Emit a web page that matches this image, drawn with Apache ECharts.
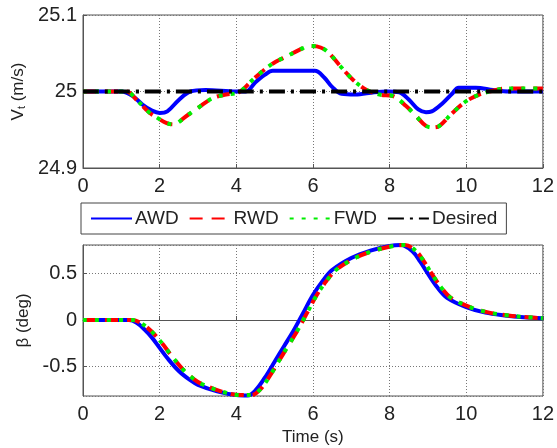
<!DOCTYPE html>
<html>
<head>
<meta charset="utf-8">
<script src="https://cdn.jsdelivr.net/npm/echarts@6/dist/echarts.min.js"></script>
<style>html,body{margin:0;padding:0;background:#fff}#c{width:557px;height:448px}</style>
</head>
<body>
<div id="c"></div>
<script>
// ---- Data ----
const xTicks = [0, 2, 4, 6, 8, 10, 12];
const vtTicks = [24.9, 25, 25.1];
const betaTicks = [-0.5, 0, 0.5];
const seriesNames = ['AWD', 'RWD', 'FWD', 'Desired'];

// Vt (m/s) – time / value pairs
const vtAwdT = [0, 1.0, 1.3, 1.55, 1.8, 2.0, 2.2, 2.5, 2.8, 3.2, 4.0, 4.25, 4.5, 4.75, 4.95, 6.05, 6.3, 6.5, 6.75, 7.1, 7.6, 7.95, 8.25, 8.5, 8.75, 8.95, 9.1, 9.37, 9.63, 9.8, 10.25, 10.7, 11.1, 12];
const vtAwdV = [25, 25, 24.994, 24.983, 24.975, 24.972, 24.974, 24.989, 25.0, 25.002, 25.0, 25.0, 25.012, 25.022, 25.027, 25.027, 25.018, 25.006, 24.997, 24.996, 24.999, 25.0, 24.999, 24.9895, 24.9765, 24.973, 24.974, 24.984, 24.997, 25.005, 25.005, 25.002, 25.0, 25.0];

const vtRwdT = [0, 1.13, 1.4, 1.73, 1.99, 2.17, 2.35, 2.7, 3.04, 3.39, 3.73, 4.07, 4.42, 4.77, 5.03, 5.32, 5.67, 5.93, 6.1, 6.36, 6.7, 7.05, 7.4, 7.74, 8.09, 8.43, 8.69, 8.95, 9.15, 9.3, 9.64, 9.99, 10.34, 10.69, 11.04, 12];
const vtRwdV = [25, 25, 24.989, 24.9725, 24.964, 24.959, 24.957, 24.968, 24.98, 24.9915, 24.996, 24.999, 25.015, 25.03, 25.039, 25.046, 25.055, 25.0595, 25.059, 25.053, 25.034, 25.015, 25.002, 24.996, 24.994, 24.981, 24.968, 24.955, 24.953, 24.955, 24.972, 24.987, 24.996, 25.001, 25.004, 25.004];
const vtFwdT = [0, 1.13, 1.4, 1.73, 1.99, 2.17, 2.35, 2.7, 3.04, 3.39, 3.73, 4.07, 4.42, 4.77, 5.03, 5.32, 5.67, 5.93, 6.1, 6.36, 6.7, 7.05, 7.4, 7.74, 8.09, 8.43, 8.69, 8.95, 9.15, 9.3, 9.64, 9.99, 10.34, 10.69, 11.04, 12];
const vtFwdV = [25, 25, 24.989, 24.9725, 24.964, 24.959, 24.957, 24.968, 24.98, 24.9915, 24.996, 24.999, 25.015, 25.03, 25.039, 25.046, 25.055, 25.0595, 25.059, 25.053, 25.034, 25.015, 25.002, 24.996, 24.994, 24.981, 24.968, 24.955, 24.953, 24.955, 24.972, 24.987, 24.996, 25.001, 25.004, 25.004];
const vtDesT = [0, 12];
const vtDesV = [25, 25];

// beta (deg)
const bAwdT = [0, 1.2, 1.4, 1.6, 1.8, 2.0, 2.2, 2.5, 2.8, 3.0, 3.5, 4.0, 4.3, 4.5, 4.75, 5.0, 5.25, 5.5, 5.75, 6.0, 6.25, 6.5, 7.0, 7.5, 8.0, 8.3, 8.6, 8.8, 9.0, 9.25, 9.5, 10.0, 10.5, 11, 11.5, 12];
const bAwdV = [0, 0, -0.03, -0.1, -0.19, -0.3, -0.41, -0.55, -0.65, -0.70, -0.77, -0.81, -0.815, -0.76, -0.62, -0.45, -0.28, -0.11, 0.08, 0.27, 0.42, 0.54, 0.67, 0.75, 0.80, 0.81, 0.74, 0.63, 0.50, 0.35, 0.24, 0.14, 0.08, 0.05, 0.03, 0.02];
const bRwdT = [0, 1.3, 1.5, 1.7, 1.9, 2.1, 2.3, 2.6, 2.9, 3.1, 3.6, 4.1, 4.4, 4.6, 4.85, 5.1, 5.35, 5.6, 5.85, 6.1, 6.35, 6.6, 7.1, 7.6, 8.1, 8.4, 8.7, 8.9, 9.1, 9.35, 9.6, 10.1, 10.6, 11.1, 11.6, 12];
const bRwdV = [0, 0, -0.03, -0.09, -0.17, -0.27, -0.38, -0.53, -0.64, -0.69, -0.77, -0.81, -0.81, -0.76, -0.62, -0.45, -0.28, -0.11, 0.08, 0.27, 0.42, 0.54, 0.67, 0.75, 0.80, 0.81, 0.74, 0.63, 0.50, 0.35, 0.24, 0.14, 0.08, 0.05, 0.03, 0.02];
const bFwdT = [0, 1.3, 1.5, 1.7, 1.9, 2.1, 2.3, 2.6, 2.9, 3.1, 3.6, 4.1, 4.4, 4.6, 4.85, 5.1, 5.35, 5.6, 5.85, 6.1, 6.35, 6.6, 7.1, 7.6, 8.1, 8.4, 8.7, 8.9, 9.1, 9.35, 9.6, 10.1, 10.6, 11.1, 11.6, 12];
const bFwdV = [0, 0, -0.03, -0.09, -0.17, -0.27, -0.38, -0.53, -0.64, -0.69, -0.77, -0.81, -0.81, -0.76, -0.62, -0.45, -0.28, -0.11, 0.08, 0.27, 0.42, 0.54, 0.67, 0.75, 0.80, 0.81, 0.74, 0.63, 0.50, 0.35, 0.24, 0.14, 0.08, 0.05, 0.03, 0.02];

// ---- Build chart ----
const pairs = (t, v) => t.map((x, i) => [x, v[i]]);
const FONT = 'Liberation Sans, Arial, sans-serif';
const TXT = '#222';
const near = (v, list) => list.some(k => Math.abs(k - v) < 1e-6);

const styles = {
  AWD: { color: '#0000ff', width: 4, type: 'solid' },
  RWD: { color: '#ff0000', width: 4, type: [13, 9] },
  FWD: { color: '#00ee00', width: 4, type: [4, 8] },
  Desired: { color: '#000000', width: 4, type: [16, 6, 3, 6] }
};
function mk(name, data, gi, z) {
  const s = styles[name];
  return {
    name, type: 'line', xAxisIndex: gi, yAxisIndex: gi, data,
    showSymbol: false, symbol: 'none', smooth: 0.35, z,
    color: s.color,
    lineStyle: { color: s.color, width: s.width, type: s.type, cap: 'butt' },
    emphasis: { disabled: true }, animation: false
  };
}

const xAxisBase = (gi, withName) => ({
  type: 'value', gridIndex: gi, min: 0, max: 12, interval: 2,
  axisLine: { show: true, lineStyle: { color: '#555', width: 1 } },
  axisTick: { show: true, inside: true, length: 4, lineStyle: { color: '#555' } },
  splitLine: { show: true, lineStyle: { color: '#777', type: [1, 2], width: 1 } },
  axisLabel: { fontSize: 20, color: TXT, fontFamily: FONT, margin: 8,
    formatter: v => near(v, xTicks) ? String(v) : '' },
  name: withName ? 'Time (s)' : '',
  nameLocation: 'middle', nameGap: 33,
  nameTextStyle: { fontSize: 17, color: TXT, fontFamily: FONT }
});

const option = {
  animation: false,
  backgroundColor: '#fff',
  grid: [
    { left: 83, right: 12, top: 15, height: 153, show: true, borderColor: '#555', borderWidth: 1, backgroundColor: '#fff' },
    { left: 83, right: 12, top: 245, height: 151, show: true, borderColor: '#555', borderWidth: 1, backgroundColor: '#fff' }
  ],
  legend: {
    data: seriesNames,
    left: 81, top: 203,
    itemWidth: 41, itemHeight: 14, itemGap: 10,
    padding: [6, 9, 6, 9],
    borderColor: '#444', borderWidth: 1, backgroundColor: '#fff',
    selectedMode: false,
    itemStyle: { opacity: 0, borderWidth: 0, color: 'transparent' },
    textStyle: { fontSize: 19, color: TXT, fontFamily: FONT, padding: [0, 0, 0, -2] }
  },
  xAxis: [xAxisBase(0, false), xAxisBase(1, true)],
  yAxis: [
    {
      type: 'value', gridIndex: 0, min: 24.9, max: 25.1, interval: 0.1,
      axisLine: { show: true, lineStyle: { color: '#555' } },
      axisTick: { show: true, inside: true, length: 4, lineStyle: { color: '#555' } },
      splitLine: { show: true, lineStyle: { color: '#777', type: [1, 2] } },
      axisLabel: { fontSize: 20, color: TXT, fontFamily: FONT, margin: 6,
        formatter: v => { const r = +(+v).toFixed(1); return near(r, vtTicks) ? String(r) : ''; } },
      name: 'V{s|t} (m/s)', nameLocation: 'middle', nameRotate: 90, nameGap: 49,
      nameTextStyle: { fontSize: 17, color: TXT, fontFamily: FONT,
        rich: { s: { fontSize: 11, color: TXT, fontFamily: FONT, verticalAlign: 'bottom', padding: [6, 0, 0, 0] } } }
    },
    {
      type: 'value', gridIndex: 1, min: -0.82, max: 0.81, splitNumber: 3,
      axisLine: { show: true, lineStyle: { color: '#555' } },
      axisTick: { show: true, inside: true, length: 4, lineStyle: { color: '#555' } },
      splitLine: { show: true, lineStyle: { color: '#777', type: [1, 2] } },
      axisLabel: { fontSize: 20, color: TXT, fontFamily: FONT, margin: 6, showMinLabel: false, showMaxLabel: false,
        formatter: v => { const r = Math.round(v * 100) / 100; return near(r, betaTicks) ? String(r) : ''; } },
      name: 'β (deg)', nameLocation: 'middle', nameRotate: 90, nameGap: 41,
      nameTextStyle: { fontSize: 17, color: TXT, fontFamily: FONT }
    }
  ],
  series: [
    mk('AWD', pairs(vtAwdT, vtAwdV), 0, 2),
    mk('RWD', pairs(vtRwdT, vtRwdV), 0, 3),
    mk('FWD', pairs(vtFwdT, vtFwdV), 0, 4),
    mk('Desired', pairs(vtDesT, vtDesV), 0, 5),
    mk('AWD', pairs(bAwdT, bAwdV), 1, 2),
    mk('RWD', pairs(bRwdT, bRwdV), 1, 3),
    mk('FWD', pairs(bFwdT, bFwdV), 1, 4)
  ]
};
const chart = echarts.init(document.getElementById('c'), null, { renderer: 'canvas' });
chart.setOption(option);
</script>
</body>
</html>
